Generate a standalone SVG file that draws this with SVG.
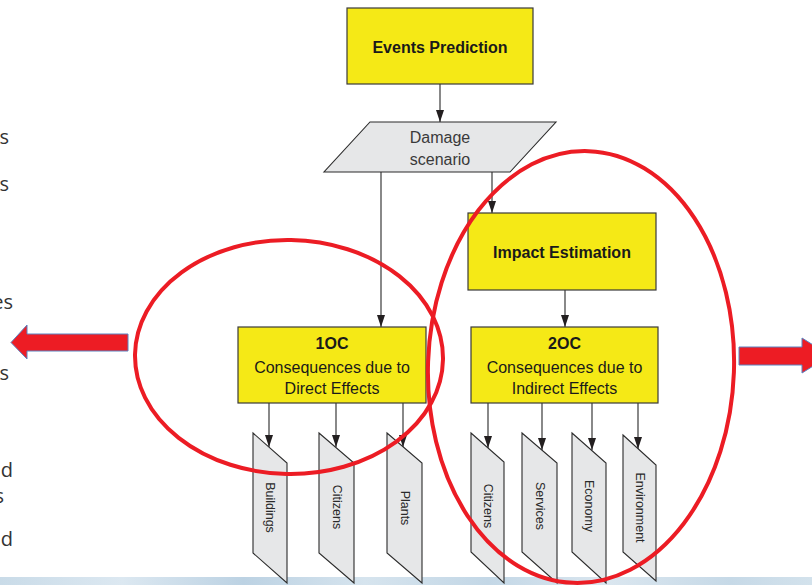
<svg xmlns="http://www.w3.org/2000/svg" width="812" height="585" viewBox="0 0 812 585">
<defs>
<marker id="ah" viewBox="0 0 12 8" refX="12" refY="4" markerWidth="12" markerHeight="8" markerUnits="userSpaceOnUse" orient="auto">
<path d="M0,0 L12,4 L0,8 z" fill="#231f20"/>
</marker>
<linearGradient id="ice" x1="0" y1="0" x2="1" y2="0">
<stop offset="0" stop-color="#c9dbe8"/>
<stop offset="0.15" stop-color="#dce8f1"/>
<stop offset="0.3" stop-color="#bcd2e3"/>
<stop offset="0.45" stop-color="#d6e4ee"/>
<stop offset="0.6" stop-color="#c3d7e6"/>
<stop offset="0.75" stop-color="#dae6ef"/>
<stop offset="0.9" stop-color="#c6d9e7"/>
<stop offset="1" stop-color="#d3e2ec"/>
</linearGradient>
<style>
.box{fill:#f5e916;stroke:#3a3a3a;stroke-width:1.2}
.para{fill:#e6e7e8;stroke:#2b2b2b;stroke-width:1.1}
.conn{stroke:#3a3a3a;stroke-width:1.2;fill:none;marker-end:url(#ah)}
.bt{font-family:"Liberation Sans",Arial,sans-serif;font-weight:bold;font-size:16px;fill:#1a1a1a;text-anchor:middle}
.rt{font-family:"Liberation Sans",Arial,sans-serif;font-size:16px;fill:#1a1a1a;text-anchor:middle}
.gt{font-family:"Liberation Sans",Arial,sans-serif;font-size:16px;fill:#3a3a3a;text-anchor:middle}
.vt{font-family:"Liberation Sans",Arial,sans-serif;font-size:12.5px;fill:#2a2a2a;text-anchor:middle;dominant-baseline:central}
.side{font-family:"Open Sans","Liberation Sans",sans-serif;font-size:20px;fill:#333;text-anchor:end}
.ring{fill:none;stroke:#ec1c24;stroke-width:4}
.redarrow{fill:#ed1c24;stroke:#5b82c0;stroke-width:1}
</style>
</defs>
<rect x="0" y="0" width="812" height="585" fill="#ffffff"/>
<rect x="0" y="577" width="812" height="8" fill="url(#ice)"/>

<g id="side-text">
<text class="side" x="9" y="144">s</text>
<text class="side" x="9" y="191">s</text>
<text class="side" x="13" y="309">es</text>
<text class="side" x="9" y="380">s</text>
<text class="side" x="13" y="477">d</text>
<text class="side" x="4" y="503">s</text>
<text class="side" x="13" y="546">d</text>
</g>

<g id="connectors">
<path class="conn" d="M440,84 V122"/>
<path class="conn" d="M381,172 V327"/>
<path class="conn" d="M492,172 V213"/>
<path class="conn" d="M565,290 V327"/>
<path class="conn" d="M269,403 V447"/>
<path class="conn" d="M336,403 V447"/>
<path class="conn" d="M403,403 V447"/>
<path class="conn" d="M488,403 V448"/>
<path class="conn" d="M542,403 V450"/>
<path class="conn" d="M592,403 V450"/>
<path class="conn" d="M638,403 V449"/>
</g>

<g id="events-prediction">
<rect class="box" x="347" y="8" width="186" height="76"/>
<text class="bt" x="440" y="53">Events Prediction</text>
</g>

<g id="damage-scenario">
<polygon class="para" points="370,122 556,122 510,172 324,172"/>
<text class="gt" x="440" y="143">Damage</text>
<text class="gt" x="440" y="165">scenario</text>
</g>

<g id="impact-estimation">
<rect class="box" x="468" y="213" width="188" height="77"/>
<text class="bt" x="562" y="258">Impact Estimation</text>
</g>

<g id="oc1">
<rect class="box" x="238" y="327" width="188" height="76"/>
<text class="bt" x="332" y="349">1OC</text>
<text class="rt" x="332" y="372.5">Consequences due to</text>
<text class="rt" x="332" y="394">Direct Effects</text>
</g>

<g id="oc2">
<rect class="box" x="471" y="327" width="187" height="76"/>
<text class="bt" x="564.5" y="349">2OC</text>
<text class="rt" x="564.5" y="372.5">Consequences due to</text>
<text class="rt" x="564.5" y="394">Indirect Effects</text>
</g>

<g id="buildings">
<polygon class="para" points="253,433 287,463 287,583 253,553"/>
<text class="vt" transform="translate(270,507.5) rotate(90)">Buildings</text>
</g>
<g id="citizens-1">
<polygon class="para" points="319,433 354,463 354,583 319,553"/>
<text class="vt" transform="translate(336.5,507) rotate(90)">Citizens</text>
</g>
<g id="plants">
<polygon class="para" points="387,433 422,463 422,583 387,553"/>
<text class="vt" transform="translate(404.5,508) rotate(90)">Plants</text>
</g>
<g id="citizens-2">
<polygon class="para" points="471,433 504,462 504,583 471,552"/>
<text class="vt" transform="translate(487.5,506) rotate(90)">Citizens</text>
</g>
<g id="services">
<polygon class="para" points="522,433 557,463 557,583 522,552"/>
<text class="vt" transform="translate(539.5,506) rotate(90)">Services</text>
</g>
<g id="economy">
<polygon class="para" points="572,433 606,463 606,583 572,552"/>
<text class="vt" transform="translate(589,506) rotate(90)">Economy</text>
</g>
<g id="environment">
<polygon class="para" points="623,435 656,465 656,581 623,552"/>
<text class="vt" transform="translate(639.5,507.5) rotate(90)">Environment</text>
</g>

<g id="highlights">
<ellipse class="ring" cx="289" cy="357" rx="154" ry="117" transform="rotate(1 289 357)"/>
<ellipse class="ring" cx="581" cy="367" rx="153" ry="216" transform="rotate(2 581 367)"/>
</g>

<g id="red-arrows">
<polygon class="redarrow" points="128,334 27,334 27,325 11,342.5 27,359 27,351 128,351"/>
<polygon class="redarrow" points="739,347 802,347 802,338 830,355.5 802,373 802,365 739,365"/>
</g>
</svg>
